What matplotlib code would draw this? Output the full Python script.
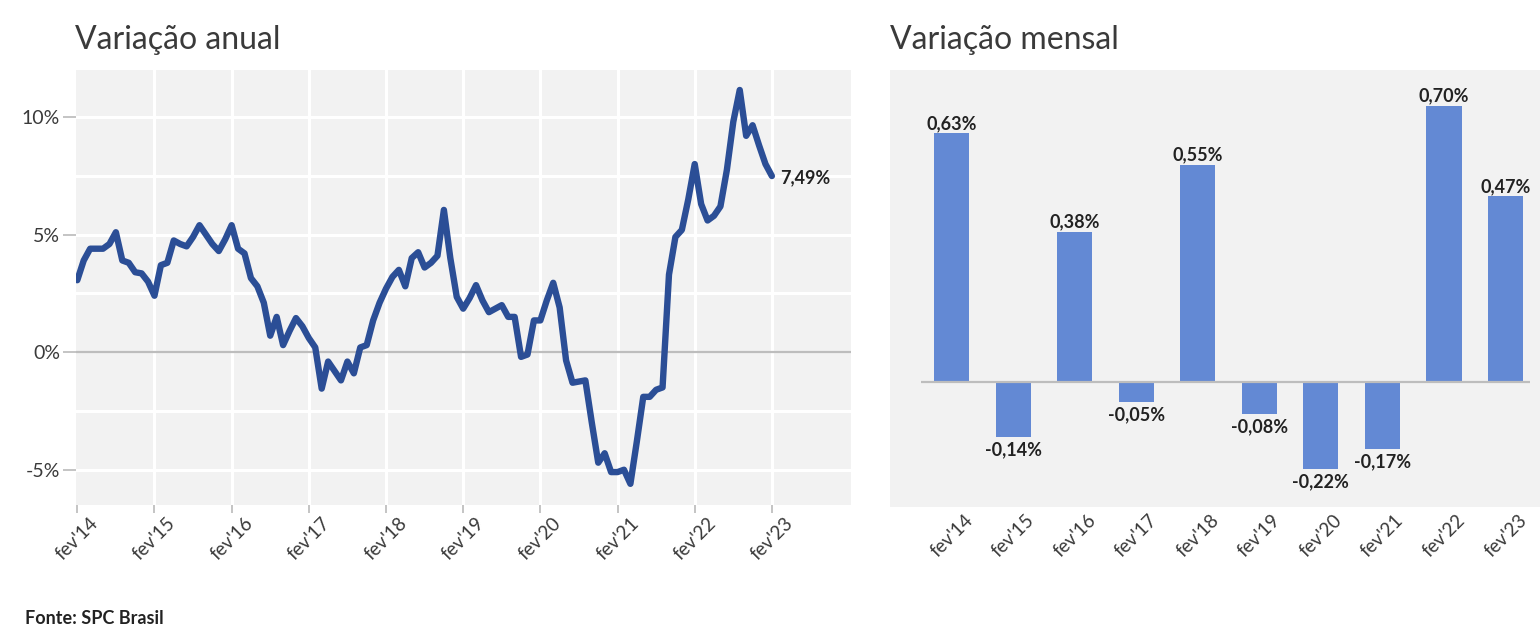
import numpy as np
import matplotlib
matplotlib.use("Agg")
import matplotlib.pyplot as plt

plt.rcParams['font.family'] = ['Lato', 'DejaVu Sans']

# %% Data
# variação anual, mensal de fev'14 a fev'23 (%)
anual = [3.06, 3.9, 4.4, 4.4, 4.4, 4.6, 5.1, 3.9, 3.8, 3.4, 3.35, 3.0,
         2.4, 3.7, 3.8, 4.75, 4.6, 4.5, 4.9, 5.4, 5.0, 4.6, 4.3, 4.8,
         5.4, 4.4, 4.2, 3.15, 2.8, 2.1, 0.7, 1.5, 0.3, 0.9, 1.45, 1.1,
         0.6, 0.2, -1.55, -0.4, -0.8, -1.2, -0.4, -0.9, 0.2, 0.3, 1.35, 2.1,
         2.7, 3.2, 3.5, 2.8, 4.0, 4.25, 3.6, 3.8, 4.1, 6.05, 4.0, 2.35,
         1.85, 2.3, 2.85, 2.2, 1.7, 1.85, 2.0, 1.5, 1.5, -0.2, -0.1, 1.35,
         1.35, 2.2, 2.95, 1.9, -0.35, -1.3, -1.25, -1.2, -3.0, -4.7, -4.3, -5.1,
         -5.1, -5.0, -5.6, -3.8, -1.9, -1.9, -1.6, -1.5, 3.3, 4.9, 5.2, 6.5,
         8.0, 6.3, 5.6, 5.8, 6.2, 7.75, 9.8, 11.15, 9.2, 9.65, 8.8, 8.0,
         7.49]
anos = ["fev'14", "fev'15", "fev'16", "fev'17", "fev'18",
        "fev'19", "fev'20", "fev'21", "fev'22", "fev'23"]
mensal = [0.63, -0.14, 0.38, -0.05, 0.55, -0.08, -0.22, -0.17, 0.70, 0.47]
mensal_txt = ["0,63%", "-0,14%", "0,38%", "-0,05%", "0,55%",
              "-0,08%", "-0,22%", "-0,17%", "0,70%", "0,47%"]
ultimo_txt = "7,49%"
yticks_anual = [-5, 0, 5, 10]
yticks_txt = ["-5%", "0%", "5%", "10%"]

BG = '#F2F2F2'
TXT = '#3A3A3A'
LINE = '#2B4E96'
BAR = '#6389D4'
TICK = '#BFBFBF'

fig = plt.figure(figsize=(15.4, 6.27), dpi=100)

# %% Variação anual
ax1 = fig.add_axes([76 / 1540, 1 - 505 / 627, 775 / 1540, 435 / 627])
ax1.set_facecolor(BG)
x = np.arange(len(anual))
for gy in [-2.5, 2.5, 5, 7.5, 10, -5]:
    ax1.axhline(gy, color='white', lw=2.2, zorder=1)
for gx in range(12, 109, 12):
    ax1.axvline(gx, color='white', lw=2.2, zorder=1)
ax1.axhline(0, color='#BDBDBD', lw=1.6, zorder=2)
ax1.plot(x, anual, color=LINE, lw=4.6, solid_joinstyle='round',
         solid_capstyle='round', zorder=3)
ax1.annotate(ultimo_txt, (x[-1], anual[-1]), xytext=(6, -1), textcoords='offset points',
             va='center', ha='left', fontsize=13, fontweight='bold', color='#222222')
ax1.set_xlim(-0.2, 120.3)
ax1.set_ylim(-6.5, 12.0)
ax1.set_yticks(yticks_anual)
ax1.set_yticklabels(yticks_txt)
ax1.set_xticks(range(0, 109, 12))
ax1.set_xticklabels(anos, rotation=45, ha='center')
ax1.tick_params(axis='y', length=9.5, width=1.3, color=TICK, pad=2,
                labelsize=14, labelcolor=TXT)
ax1.tick_params(axis='x', length=6, width=1.3, color=TICK, pad=1,
                labelsize=13.5, labelcolor=TXT)
for s in ax1.spines.values():
    s.set_visible(False)
fig.text(75 / 1540, 1 - 40 / 627, 'Variação anual', fontsize=23, color=TXT, va='center')

# %% Variação mensal
ax2 = fig.add_axes([890 / 1540, 1 - 507 / 627, 650 / 1540, 437 / 627])
ax2.set_facecolor(BG)
pos = np.arange(len(mensal))
ax2.bar(pos, mensal, width=0.57, color=BAR, zorder=2)
ax2.hlines(0, -0.5, 9.4, color='#BDBDBD', lw=1.6, zorder=3)
for p, v, t in zip(pos, mensal, mensal_txt):
    if v >= 0:
        ax2.annotate(t, (p, v), xytext=(0, 1), textcoords='offset points',
                     ha='center', va='bottom', fontsize=13, fontweight='bold', color='#222222')
    else:
        ax2.annotate(t, (p, v), xytext=(0, -3), textcoords='offset points',
                     ha='center', va='top', fontsize=13, fontweight='bold', color='#222222')
ax2.set_xlim(-1.0, 9.56)
ax2.set_ylim(-0.316, 0.79)
ax2.set_yticks([])
ax2.set_xticks(pos)
ax2.set_xticklabels(anos, rotation=45, ha='center')
ax2.tick_params(axis='x', length=0, pad=3, labelsize=13.5, labelcolor=TXT)
for s in ax2.spines.values():
    s.set_visible(False)
fig.text(890 / 1540, 1 - 40 / 627, 'Variação mensal', fontsize=23, color=TXT, va='center')

fig.text(25 / 1540, 1 - 618 / 627, 'Fonte: SPC Brasil', fontsize=13, fontweight='bold',
         color='#222222', va='center')

fig.savefig('out.png', dpi=100, facecolor='white')
